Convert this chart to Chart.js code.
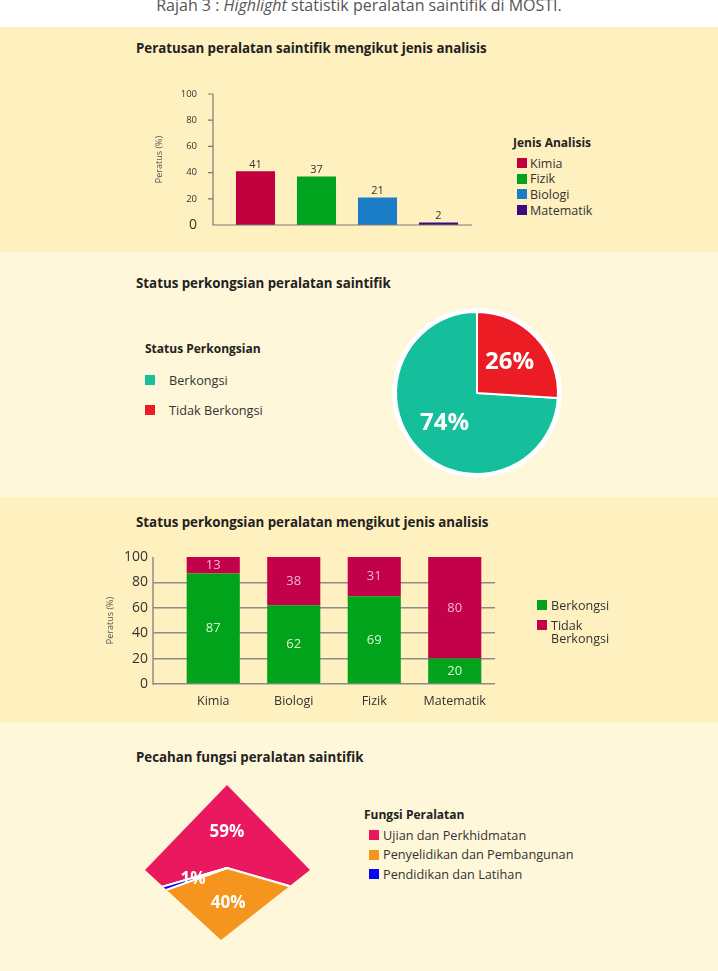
<!DOCTYPE html>
<html>
<head>
<meta charset="utf-8">
<script src="https://cdn.jsdelivr.net/npm/chart.js@4.4.0/dist/chart.umd.min.js"></script>
<style>
  body { margin: 0; background: #ffffff; font-family: "Open Sans", sans-serif; }
  #page { position: relative; width: 718px; height: 971px; overflow: hidden; }
  .panel { position: absolute; left: 0; width: 718px; }
  .dark { background: #FEF0BF; }
  .light { background: #FEF7D9; }
  .caption { position: absolute; left: 0; width: 718px; top: -5px; text-align: center; font-size: 16px; line-height: 20px; color: #555; }
  .title { position: absolute; left: 136px; font-size: 13.3px; font-weight: bold; color: #222; line-height: 16px; }
  .legend-title { position: absolute; font-size: 12px; font-weight: bold; color: #222; line-height: 16px; }
  .legend-row { position: absolute; display: flex; align-items: flex-start; color: #333; }
  .legend-box { flex: none; }
  canvas { position: absolute; }
</style>
</head>
<body>
<div id="page">
  <div class="caption">Rajah 3 : <i>Highlight</i> statistik peralatan saintifik di MOSTI.</div>

  <div class="panel dark" style="top:27px;height:225px"></div>
  <div class="panel light" style="top:252px;height:245px"></div>
  <div class="panel dark" style="top:497px;height:225px"></div>
  <div class="panel light" style="top:722px;height:249px"></div>

  <div class="title" style="top:40px">Peratusan peralatan saintifik mengikut jenis analisis</div>
  <div class="title" style="top:275px">Status perkongsian peralatan saintifik</div>
  <div class="title" style="top:514px">Status perkongsian peralatan mengikut jenis analisis</div>
  <div class="title" style="top:749px">Pecahan fungsi peralatan saintifik</div>

  <canvas id="jenis-chart" width="500" height="185" style="left:0;top:60px"></canvas>
  <canvas id="status-pie-chart" width="176" height="176" style="left:389px;top:305px"></canvas>
  <canvas id="kongsi-chart" width="718" height="180" style="left:0;top:540px"></canvas>
  <canvas id="fungsi-chart" width="200" height="200" style="left:127px;top:768px"></canvas>

  <div class="legend-title" style="left:513px;top:135px">Jenis Analisis</div>
  <div class="legend-title" style="left:145px;top:341px">Status Perkongsian</div>
  <div class="legend-title" style="left:364px;top:807px">Fungsi Peralatan</div>
  <div id="legend-jenis"></div>
  <div id="legend-status"></div>
  <div id="legend-kongsi"></div>
  <div id="legend-fungsi"></div>
</div>

<script>
// Chart 1: percentage of equipment by analysis type
let jenisAnalisis = ["Kimia", "Fizik", "Biologi", "Matematik"];
let peratusJenis = [41, 37, 21, 2];
let jenisColours = ["#C1003F", "#00A31E", "#1B7CC8", "#3C0B7C"];

// Chart 2: sharing status
let statusLabels = ["Berkongsi", "Tidak Berkongsi"];
let statusValues = [74, 26];
let statusColours = ["#16BF9B", "#EC1C24"];

// Chart 3: sharing status by analysis type
let kategori = ["Kimia", "Biologi", "Fizik", "Matematik"];
let berkongsi = [87, 62, 69, 20];
let tidakBerkongsi = [13, 38, 31, 80];
let kongsiLabels = ["Berkongsi", "Tidak Berkongsi"];
let kongsiColours = ["#00A31A", "#C3004A"];

// Chart 4: equipment functions
let fungsiLabels = ["Ujian dan Perkhidmatan", "Penyelidikan dan Pembangunan", "Pendidikan dan Latihan"];
let fungsiValues = [59, 40, 1];
let fungsiColours = ["#E9185F", "#F6951E", "#0707F2"];

Chart.defaults.font.family = "'Open Sans', sans-serif";
Chart.defaults.color = "#333";
Chart.defaults.animation = false;
Chart.defaults.plugins.legend.display = false;
Chart.defaults.plugins.tooltip.enabled = false;

// HTML legends, one row per label
function makeLegend(id, labels, colours, boxX, textX, firstY, gap, fontSize, textWidth) {
    let holder = document.getElementById(id);
    for (let i = 0; i < labels.length; i++) {
        let row = document.createElement("div");
        row.className = "legend-row";
        row.style.left = boxX + "px";
        row.style.top = (firstY + i * gap - 8) + "px";
        row.style.fontSize = fontSize + "px";
        row.style.lineHeight = "16px";

        let box = document.createElement("div");
        box.className = "legend-box";
        box.style.width = "10px";
        box.style.height = "10px";
        box.style.marginTop = "3px";
        box.style.background = colours[i];

        let text = document.createElement("div");
        text.style.marginLeft = (textX - boxX - 10) + "px";
        text.style.lineHeight = "13px";
        text.style.marginTop = "1.5px";
        if (textWidth) text.style.width = textWidth + "px";
        text.textContent = labels[i];

        row.appendChild(box);
        row.appendChild(text);
        holder.appendChild(row);
    }
}

makeLegend("legend-jenis", jenisAnalisis, jenisColours, 517, 530, 163, 15.7, 12.5);
makeLegend("legend-status", statusLabels, statusColours, 145, 169, 380, 30, 12.7);
makeLegend("legend-kongsi", kongsiLabels, kongsiColours, 537, 551, 605, 20, 12.6, 70);
makeLegend("legend-fungsi", fungsiLabels, fungsiColours, 369, 383, 835, 19.5, 12.7);

// Value above each bar
const barTopLabels = {
    id: "barTopLabels",
    afterDatasetsDraw(chart) {
        const ctx = chart.ctx;
        const meta = chart.getDatasetMeta(0);
        ctx.save();
        ctx.font = "11px 'Open Sans'";
        ctx.fillStyle = "#333";
        ctx.textAlign = "center";
        ctx.textBaseline = "bottom";
        meta.data.forEach((bar, i) => {
            ctx.fillText(chart.data.datasets[0].data[i], bar.x, bar.y - 1);
        });
        ctx.restore();
    }
};

// Axis lines of chart 1, drawn a little outside the bar area
const jenisAxes = {
    id: "jenisAxes",
    afterDatasetsDraw(chart) {
        const ctx = chart.ctx;
        const y = chart.scales.y;
        const axisX = chart.chartArea.left - 12;
        const baseY = y.getPixelForValue(0);
        ctx.save();
        ctx.strokeStyle = "#7a7a7a";
        ctx.lineWidth = 1.2;
        ctx.beginPath();
        ctx.moveTo(axisX, y.getPixelForValue(100));
        ctx.lineTo(axisX, baseY);
        ctx.lineTo(chart.chartArea.right + 3, baseY);
        y.ticks.forEach(t => {
            if (t.value === 0) return;
            const ty = y.getPixelForValue(t.value);
            ctx.moveTo(axisX - 5, ty);
            ctx.lineTo(axisX, ty);
        });
        ctx.stroke();
        ctx.restore();
    }
};

// Value in the middle of each stacked segment
const segmentLabels = {
    id: "segmentLabels",
    afterDatasetsDraw(chart) {
        const ctx = chart.ctx;
        const textColours = ["#DDF5D6", "#F8B4D4"];
        ctx.save();
        ctx.font = "13px 'Open Sans'";
        ctx.textAlign = "center";
        ctx.textBaseline = "middle";
        chart.data.datasets.forEach((ds, d) => {
            ctx.fillStyle = textColours[d];
            chart.getDatasetMeta(d).data.forEach((bar, i) => {
                ctx.fillText(ds.data[i], bar.x, (bar.y + bar.base) / 2);
            });
        });
        ctx.restore();
    }
};

// Vertical line at the left end of the extended gridlines
const leftAxisLine = {
    id: "leftAxisLine",
    beforeDatasetsDraw(chart) {
        const ctx = chart.ctx;
        const y = chart.scales.y;
        const x = chart.chartArea.left - 20;
        ctx.save();
        ctx.strokeStyle = "#8c8c8c";
        ctx.lineWidth = 1.5;
        ctx.beginPath();
        ctx.moveTo(x, y.getPixelForValue(100));
        ctx.lineTo(x, y.getPixelForValue(0) + 0.75);
        ctx.stroke();
        ctx.restore();
    }
};

// Percent text on each slice
function sliceLabels(fontSize, factor) {
    return {
        id: "sliceLabels",
        afterDraw(chart) {
            const ctx = chart.ctx;
            const data = chart.data.datasets[0].data;
            ctx.save();
            ctx.font = "bold " + fontSize + "px 'Open Sans'";
            ctx.fillStyle = "#ffffff";
            ctx.textAlign = "center";
            ctx.textBaseline = "middle";
            chart.getDatasetMeta(0).data.forEach((arc, i) => {
                const mid = (arc.startAngle + arc.endAngle) / 2;
                const r = arc.outerRadius * factor;
                ctx.fillText(data[i] + "%", arc.x + Math.cos(mid) * r, arc.y + Math.sin(mid) * r);
            });
            ctx.restore();
        }
    };
}

// White ring behind the status pie
const whiteRing = {
    id: "whiteRing",
    beforeDatasetsDraw(chart) {
        const arc = chart.getDatasetMeta(0).data[0];
        const ctx = chart.ctx;
        ctx.save();
        ctx.fillStyle = "#ffffff";
        ctx.beginPath();
        ctx.arc(arc.x, arc.y, arc.outerRadius + 4, 0, Math.PI * 2);
        ctx.fill();
        ctx.restore();
    }
};

// Clip the function pie to a diamond
const diamondClip = {
    id: "diamondClip",
    beforeDatasetsDraw(chart) {
        const arc = chart.getDatasetMeta(0).data[0];
        const ctx = chart.ctx;
        const cx = arc.x, cy = arc.y;
        ctx.save();
        ctx.beginPath();
        ctx.moveTo(cx, cy - 83);
        ctx.lineTo(cx + 83, cy + 2);
        ctx.lineTo(cx - 6, cy + 72);
        ctx.lineTo(cx - 82, cy + 2);
        ctx.closePath();
        ctx.clip();
    },
    afterDatasetsDraw(chart) {
        chart.ctx.restore();
    }
};

function loadJenisChart() {
    new Chart("jenis-chart", {
        type: "bar",
        data: {
            labels: jenisAnalisis,
            datasets: [{
                data: peratusJenis,
                backgroundColor: jenisColours,
                categoryPercentage: 1,
                barPercentage: 0.64
            }]
        },
        options: {
            responsive: false,
            layout: { padding: { left: 140, right: 31, top: 34, bottom: 20 } },
            scales: {
                x: {
                    grid: { display: false },
                    ticks: { display: false },
                    border: { display: false },
                    afterFit: function (scale) { scale.height = 0; }
                },
                y: {
                    min: 0,
                    max: 100,
                    ticks: {
                        stepSize: 20,
                        padding: 20,
                        color: "#333",
                        font: function (c) { return { size: c.tick && c.tick.value === 0 ? 14 : 9.5 }; }
                    },
                    grid: { display: false },
                    border: { display: false },
                    title: { display: true, text: "Peratus (%)", font: { size: 9 }, color: "#555", padding: { top: 14, bottom: 0 } },
                    afterFit: function (scale) {
                        scale.width = 85;
                        scale.paddingTop = 0;
                        scale.paddingBottom = 0;
                    }
                }
            }
        },
        plugins: [jenisAxes, barTopLabels]
    });
}

function loadStatusPieChart() {
    let total = statusValues[0] + statusValues[1];
    new Chart("status-pie-chart", {
        type: "pie",
        data: {
            labels: statusLabels,
            datasets: [{
                data: statusValues,
                backgroundColor: statusColours,
                borderColor: "#ffffff",
                borderWidth: 2
            }]
        },
        options: {
            responsive: false,
            rotation: statusValues[1] / total * 360,
            layout: { padding: 6 }
        },
        plugins: [whiteRing, sliceLabels(24, 0.55)]
    });
}

function loadKongsiChart() {
    new Chart("kongsi-chart", {
        type: "bar",
        data: {
            labels: kategori,
            datasets: [{
                label: kongsiLabels[0],
                data: berkongsi,
                backgroundColor: kongsiColours[0],
                categoryPercentage: 1,
                barPercentage: 0.66
            }, {
                label: kongsiLabels[1],
                data: tidakBerkongsi,
                backgroundColor: kongsiColours[1],
                categoryPercentage: 1,
                barPercentage: 0.66
            }]
        },
        options: {
            responsive: false,
            layout: { padding: { left: 100, right: 223, top: 17, bottom: 6 } },
            scales: {
                x: {
                    stacked: true,
                    grid: { display: false },
                    border: { display: false },
                    ticks: { padding: 2, font: { size: 12.5 }, color: "#333" },
                    afterFit: function (scale) { scale.height = 30; }
                },
                y: {
                    stacked: true,
                    min: 0,
                    max: 100,
                    ticks: { stepSize: 20, padding: 5, font: { size: 14 }, color: "#333" },
                    grid: {
                        color: function (c) { return c.tick && c.tick.value === 100 ? "rgba(0,0,0,0)" : "#8c8c8c"; },
                        lineWidth: 1.5,
                        drawTicks: true,
                        tickLength: 20
                    },
                    border: { display: false },
                    title: { display: true, text: "Peratus (%)", font: { size: 9 }, color: "#555", padding: { top: 5, bottom: 0 } },
                    afterFit: function (scale) { scale.width = 73; }
                }
            }
        },
        plugins: [leftAxisLine, segmentLabels]
    });
}

function loadFungsiChart() {
    let total = fungsiValues.reduce((a, b) => a + b, 0);
    new Chart("fungsi-chart", {
        type: "pie",
        data: {
            labels: fungsiLabels,
            datasets: [{
                data: fungsiValues,
                backgroundColor: fungsiColours,
                borderColor: "#ffffff",
                borderWidth: 2
            }]
        },
        options: {
            responsive: false,
            rotation: -fungsiValues[0] / total * 180
        },
        plugins: [diamondClip, sliceLabels(17, 0.36)]
    });
}

loadJenisChart();
loadStatusPieChart();
loadKongsiChart();
loadFungsiChart();
</script>
</body>
</html>
